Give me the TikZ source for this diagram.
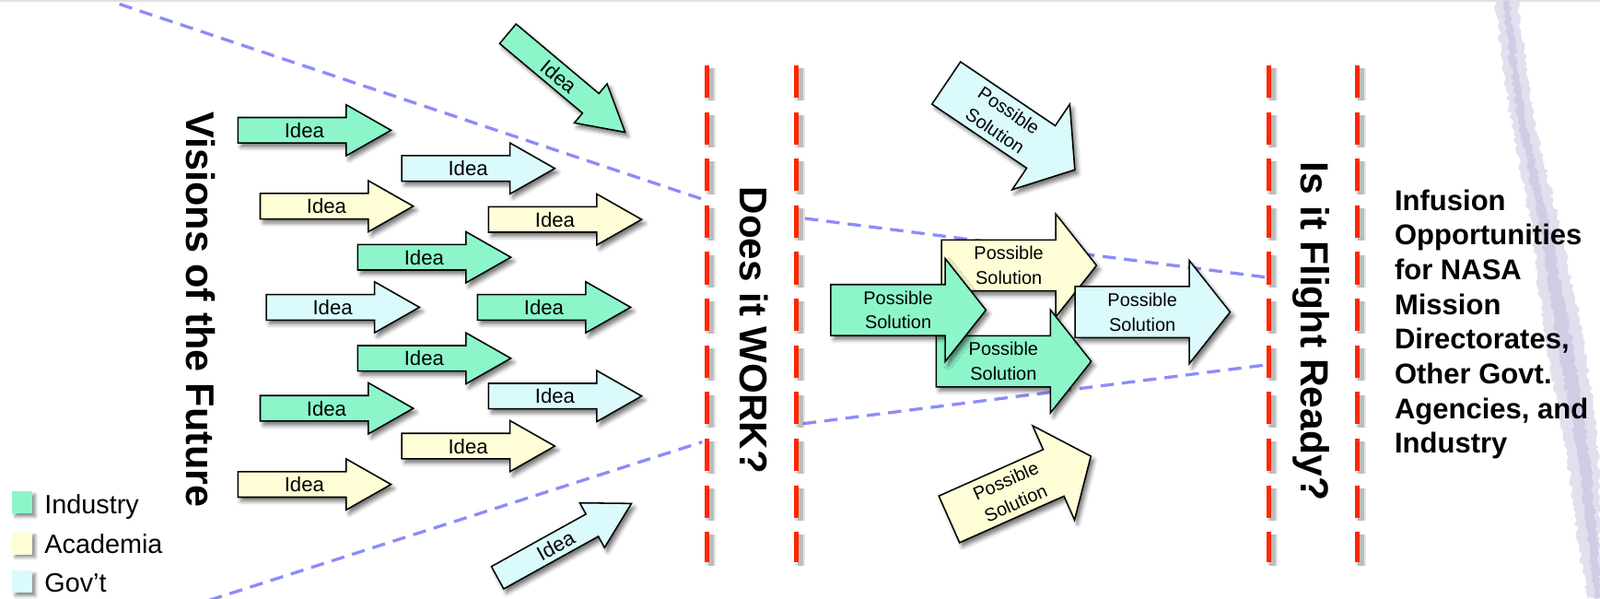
\documentclass[tikz,border=0pt]{standalone}
\usepackage{fontspec}
\setmainfont{Liberation Sans}
\usetikzlibrary{calc}
\usetikzlibrary{math}
\usetikzlibrary{shadows.blur}
\usetikzlibrary{decorations.pathmorphing}
\definecolor{indcol}{RGB}{140,246,202}
\definecolor{acacol}{RGB}{255,254,214}
\definecolor{govcol}{RGB}{218,250,252}
\definecolor{gatecol}{RGB}{255,38,0}
\definecolor{boundcol}{RGB}{140,140,250}
\definecolor{trailcol}{RGB}{226,223,238}
\definecolor{trailcore}{RGB}{204,200,226}
\tikzset{
  box/.style={draw=black, line width=1.4pt, line join=miter,
    blur shadow={shadow xshift=3pt, shadow yshift=-4pt, shadow blur radius=4pt, shadow opacity=55}},
  ind/.style={fill=indcol},
  aca/.style={fill=acacol},
  gov/.style={fill=govcol},
  ideatext/.style={font=\fontsize{20}{20}\selectfont, transform shape, inner sep=0pt},
  soltext/.style={font=\fontsize{18}{24}\selectfont, align=center, transform shape, inner sep=0pt},
  gate/.style={draw=gatecol, line width=5pt, dash pattern=on 31.7pt off 14pt},
  gateshadow/.style={draw=black, opacity=#1, dash pattern=on 31.7pt off 14pt},
  bound/.style={draw=boundcol, line width=3pt, dash pattern=on 13pt off 8pt},
  title/.style={font=\bfseries\fontsize{#1}{#1}\selectfont, rotate=-90, anchor=base, inner sep=0pt},
  legendbox/.style={fill=#1, minimum width=19.6pt, minimum height=21.7pt, inner sep=0pt,
    blur shadow={shadow xshift=3pt, shadow yshift=-3pt, shadow blur radius=3pt, shadow opacity=45}},
  legendtext/.style={font=\fontsize{26}{26}\selectfont, anchor=base west, inner sep=0pt},
}
\begin{document}
\begin{tikzpicture}[x=1pt,y=-1pt]
  \useasboundingbox (0,0) rectangle (1568,586);
  \tikzmath{\shaft = 12.5; \solshaft = 25;}
  % top rule and trail
  \draw[black!12, line width=1.5pt] (0,0.75) -- (1568,0.75);
  \fill[trailcol, decorate, decoration={random steps, segment length=3pt, amplitude=2.2pt}]
    (1465,0) -- (1480,113) -- (1501,225) -- (1515,337) -- (1536,449) -- (1551,561) -- (1556,586)
    -- (1568,586) -- (1568,520) -- (1567,449) -- (1553,337) -- (1529,225) -- (1502,113) -- (1487,0) -- cycle;
  \fill[trailcore, opacity=.8, decorate, decoration={random steps, segment length=2.5pt, amplitude=1.8pt}]
    (1472,0) -- (1487,113) -- (1510,225) -- (1526,337) -- (1547,449) -- (1560,561) -- (1564,586)
    -- (1568,586) -- (1568,561) -- (1558,449) -- (1541,337) -- (1519,225) -- (1494,113) -- (1479,0) -- cycle;
  % funnel
  \coordinate (u1) at (117,4);
  \coordinate (u2) at (688,195);
  \coordinate (u3) at (789,214);
  \coordinate (u4) at (1244,272);
  \coordinate (l1) at (205,588);
  \coordinate (l2) at (688,433);
  \coordinate (l3) at (787,415);
  \coordinate (l4) at (1244,357);
  \draw[bound] (u1) -- (u2);
  \draw[bound] (u3) -- (u4);
  \draw[bound] (l1) -- (l2);
  \draw[bound] (l3) -- (l4);
  % gates
  \foreach \x in {692.8,780.3,1243.3,1330} {
    \draw[gateshadow=.10, line width=10pt] (\x+4,67) -- (\x+4,554);
    \draw[gateshadow=.18, line width=6pt] (\x+4,67) -- (\x+4,554);
    \draw[gate] (\x,64) -- (\x,551);
  }
  % ideas
  \foreach \n/\x/\y/\a/\c in {i1/233.2/127.6/0/ind, i2/393.7/165/0/gov, i3/255/202/0/aca,
      i4/478.8/215/0/aca, i5/350.6/252/0/ind, i6/261/301/0/gov, i7/468/301/0/ind,
      i8/350.6/351/0/ind, i9/478.8/388/0/gov, i10/255/400/0/ind, i11/393.7/437/0/aca,
      i12/233.2/474.5/0/aca, i13/497.7/33.1/-40/ind, i14/487.6/565.9/29/gov} {
    \begin{scope}[shift={(\x,\y)}, rotate=\a]
      \draw[box,\c] (0,-\shaft) -- (106,-\shaft) -- (106,-25) -- (150,0) -- (106,25)
        -- (106,\shaft) -- (0,\shaft) -- cycle;
      \node[ideatext] (\n) at (65,0) {Idea};
    \end{scope}
  }
  % possible solutions
  \foreach \n/\x/\y/\a/\c in {s2/922.6/260/0/aca, s5/917.4/354/0/ind, s3/814.2/303.7/0/ind,
      s4/1053.5/305.7/0/gov, s1/927.3/81.3/-34/gov, s6/930.2/508.7/24/aca} {
    \begin{scope}[shift={(\x,\y)}, rotate=\a]
      \draw[box,\c] (0,-\solshaft) -- (112,-\solshaft) -- (112,-50.5) -- (152,0) -- (112,50.5)
        -- (112,\solshaft) -- (0,\solshaft) -- cycle;
      \node[soltext] (\n) at (66,0) {Possible\\Solution};
    \end{scope}
  }
  % titles
  \node[title=39] (visions) at (182.4,303.2) {Visions of the Future};
  \node[title=38] (work) at (725.5,323.5) {Does it WORK?};
  \node[title=38.5] (flight) at (1275,324.5) {Is it Flight Ready?};
  \node[font=\bfseries\fontsize{28}{34}\selectfont, align=left, anchor=north west, inner sep=0pt]
    (infusion) at (1366.5,185.6) {Infusion\\Opportunities\\for NASA\\Mission\\Directorates,\\Other Govt.\\Agencies, and\\Industry};
  % legend
  \node[legendbox=indcol] (kind) at (21.8,492.3) {};
  \node[legendbox=acacol] (kaca) at (21.8,532.2) {};
  \node[legendbox=govcol] (kgov) at (21.8,569.9) {};
  \node[legendtext] (tind) at (43.5,503.1) {Industry};
  \node[legendtext] (taca) at (43.5,542.2) {Academia};
  \node[legendtext] (tgov) at (43.5,580.1) {Gov’t};
\end{tikzpicture}
\end{document}
